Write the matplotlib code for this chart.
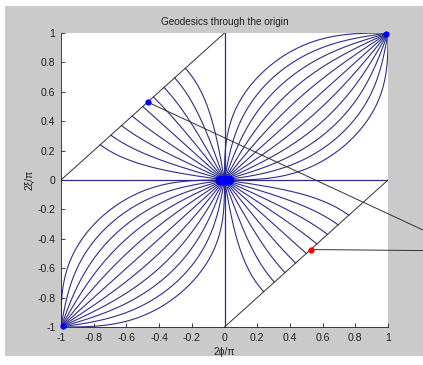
import numpy as np
import matplotlib
matplotlib.use("Agg")
import matplotlib.pyplot as plt
from matplotlib.patches import Rectangle

# Great circles through the origin that meet again at (1, 1) / (-1, -1):
# launch angle in degrees, measured from the diagonal 2ξ/π = 2ϕ/π
petal_angles = [-45, -36, -27, -18, -9, 0, 9, 18, 27, 36, 45]

# Geodesics that run into the boundary 2ξ/π - 2ϕ/π = ±1:
# launch angle in degrees, measured from the anti-diagonal
edge_angles = [-36, -27, -18, -9, 0, 9, 18, 27, 36]
# abscissa at which each one meets the upper-left boundary
edge_hits = [-0.76, -0.695, -0.63, -0.565, -0.5, -0.435, -0.37, -0.305, -0.24]

tick_values = [-1, -0.8, -0.6, -0.4, -0.2, 0, 0.2, 0.4, 0.6, 0.8, 1]
tick_labels = ["-1", "-0.8", "-0.6", "-0.4", "-0.2", "0", "0.2", "0.4", "0.6", "0.8", "1"]

blue_point = (-0.47, 0.53)
blue_far = (1.214, -0.34)
red_point = (0.527, -0.473)
red_far = (1.214, -0.48)

LINE = "#2e2e8a"
EDGE = "#303030"
FONT = ["Liberation Sans", "DejaVu Sans"]

fig = plt.figure(figsize=(4.23, 3.65), dpi=100, facecolor="white")
fig.patches.append(Rectangle((5 / 423, 1 - 356 / 365), 1, (356 - 6) / 365,
                             transform=fig.transFigure, facecolor="#cacaca",
                             edgecolor="none", zorder=-10))

ax = fig.add_axes([61 / 423, 1 - 327 / 365, (388 - 61) / 423, (327 - 33) / 365])
ax.set_facecolor("white")


def to_xy(u, v):
    # longitude/latitude pair -> (2ϕ/π, 2ξ/π)
    return (u - v) / np.pi, (u + v) / np.pi


# petals: great circles tan(v) = tan(a) sin(u)
u = np.linspace(-np.pi, np.pi, 600)
for a in petal_angles:
    v = np.arctan(np.tan(np.radians(a)) * np.sin(u))
    x, y = to_xy(u, v)
    ax.plot(x, y, color=LINE, lw=0.8)

# geodesics ending on the boundary lines
v = np.linspace(0, np.pi / 2, 300)
for b, hit in zip(edge_angles, edge_hits):
    k = np.tan(np.radians(b))
    U = np.pi * (hit + 0.5)
    uu = U * np.sin(v) + (k - U) * np.sin(2 * v) / 2
    x, y = to_xy(uu, v)
    ax.plot(x, y, color=LINE, lw=0.8)
    ax.plot(-x, -y, color=LINE, lw=0.8)

# coordinate axes through the origin
ax.plot([-1, 1], [0, 0], color=LINE, lw=0.9)
ax.plot([0, 0], [-1, 1], color=LINE, lw=0.9)

# boundary of the chart
ax.plot([-1, 0], [0, 1], color=EDGE, lw=0.7)
ax.plot([0, 1], [-1, 0], color=EDGE, lw=0.7)

# marked points
ax.plot([-0.03, 0, 0.03], [0, 0, 0], "o", color="#0000ff", ms=7, mec="none",
        clip_on=False, zorder=5)
ax.plot([0.985, -0.985], [0.99, -0.99], "o", color="#0000ff", ms=4.5, mec="none",
        clip_on=False, zorder=5)

ax.plot([blue_point[0], blue_far[0]], [blue_point[1], blue_far[1]],
        color=EDGE, lw=0.7, clip_on=False)
ax.plot([red_point[0], red_far[0]], [red_point[1], red_far[1]],
        color=EDGE, lw=0.7, clip_on=False)
ax.plot(*blue_point, "o", color="#0000ff", ms=4.5, mec="none", zorder=6)
ax.plot(*red_point, "o", color="#ff0000", ms=4.5, mec="none", zorder=6)

ax.set_xlim(-1, 1)
ax.set_ylim(-1, 1)
ax.set_xticks(tick_values)
ax.set_xticklabels(tick_labels)
ax.set_yticks(tick_values)
ax.set_yticklabels(tick_labels)
for lab in ax.get_xticklabels() + ax.get_yticklabels():
    lab.set_family(FONT)
    lab.set_fontsize(7.6)
ax.tick_params(direction="in", length=3, width=0.6, color="#202020",
               labelcolor="#202020", pad=4)
for side in ("top", "right"):
    ax.spines[side].set_visible(False)
for side in ("left", "bottom"):
    ax.spines[side].set_linewidth(0.6)
    ax.spines[side].set_color("#202020")

ax.set_title("Geodesics through the origin", family=FONT, fontsize=7.2,
             color="#202020", pad=6)
ax.set_xlabel("2ϕ/π", family=FONT, fontsize=7.4, color="#202020", labelpad=3)
ax.set_ylabel("2ξ/π", family=FONT, fontsize=7.4, color="#202020", labelpad=2)

fig.savefig("out.png", dpi=100, facecolor="white")
